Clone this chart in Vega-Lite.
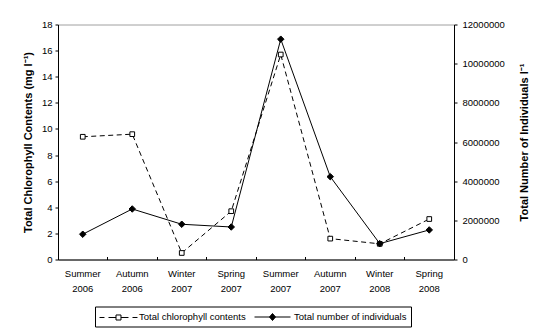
{
  "$schema": "https://vega.github.io/schema/vega-lite/v6.json",
  "width": 396,
  "height": 235,
  "autosize": {"type": "none"},
  "padding": {"left": 58, "top": 24.5, "right": 82, "bottom": 69.5},
  "background": "white",
  "config": {
    "font": "Liberation Sans",
    "view": {"stroke": "#a0a0a0", "strokeWidth": 1},
    "axis": {
      "domainColor": "black",
      "domainWidth": 1,
      "tickColor": "black",
      "tickWidth": 1,
      "labelColor": "black",
      "titleColor": "black",
      "labelFont": "Liberation Sans",
      "titleFont": "Liberation Sans",
      "labelFontSize": 9.5,
      "titleFontSize": 11,
      "titleFontWeight": "bold",
      "grid": false
    }
  },
  "datasets": {
    "seasons": [
      {"season": "Summer 2006", "chl": 9.4, "ind": 1290000},
      {"season": "Autumn 2006", "chl": 9.6, "ind": 2580000},
      {"season": "Winter 2007", "chl": 0.5, "ind": 1800000},
      {"season": "Spring 2007", "chl": 3.7, "ind": 1660000},
      {"season": "Summer 2007", "chl": 15.7, "ind": 11250000},
      {"season": "Autumn 2007", "chl": 1.6, "ind": 4230000},
      {"season": "Winter 2008", "chl": 1.2, "ind": 810000},
      {"season": "Spring 2008", "chl": 3.1, "ind": 1510000}
    ],
    "series": [
      {"series": "Total chlorophyll contents"},
      {"series": "Total number of individuals"}
    ]
  },
  "layer": [
    {
      "data": {"name": "seasons"},
      "encoding": {
        "x": {
          "field": "season",
          "type": "ordinal",
          "sort": null,
          "scale": {"type": "band", "paddingInner": 0, "paddingOuter": 0},
          "axis": {
            "title": null,
            "labelAngle": 0,
            "labelExpr": "split(datum.value, ' ')",
            "labelLineHeight": 15,
            "tickSize": -3,
            "labelPadding": 12,
            "bandPosition": 0
          }
        },
        "y": {
          "field": "chl",
          "type": "quantitative",
          "scale": {"domain": [0, 18], "nice": false},
          "axis": {
            "title": "Total Chlorophyll Contents (mg l⁻¹)",
            "values": [0, 2, 4, 6, 8, 10, 12, 14, 16, 18],
            "tickSize": 3,
            "labelPadding": 3,
            "titlePadding": 8
          }
        }
      },
      "layer": [
        {"mark": {"type": "line", "color": "black", "strokeWidth": 1, "strokeDash": [5, 3.5]}},
        {"mark": {"type": "point", "shape": "square", "size": 22, "filled": true, "fill": "white", "stroke": "black", "strokeWidth": 1, "opacity": 1}}
      ]
    },
    {
      "data": {"name": "seasons"},
      "encoding": {
        "x": {"field": "season", "type": "ordinal", "sort": null},
        "y": {
          "field": "ind",
          "type": "quantitative",
          "scale": {"domain": [0, 12000000], "nice": false},
          "axis": {
            "orient": "right",
            "title": "Total Number of Individuals l⁻¹",
            "values": [0, 2000000, 4000000, 6000000, 8000000, 10000000, 12000000],
            "format": "d",
            "tickSize": 3,
            "labelPadding": 5,
            "titleAngle": 270,
            "titleBaseline": "top",
            "titlePadding": 14
          }
        }
      },
      "layer": [
        {"mark": {"type": "line", "color": "black", "strokeWidth": 1}},
        {"mark": {"type": "point", "shape": "diamond", "size": 42, "filled": true, "fill": "black", "stroke": "black", "strokeWidth": 1, "opacity": 1}}
      ]
    },
    {
      "data": {"name": "series"},
      "mark": {"type": "point", "opacity": 0, "size": 144, "filled": true, "strokeWidth": 1},
      "encoding": {
        "shape": {
          "field": "series",
          "type": "nominal",
          "scale": {
            "domain": ["Total chlorophyll contents", "Total number of individuals"],
            "range": [
              "M-1,0H-0.17M0.5,0H1.75M2.58,0H3.83M4.5,0H5.33M1.75,-0.42H2.58V0.42H1.75Z",
              "M-1,0H5M2,-0.58L2.5,0L2,0.58L1.5,0Z"
            ]
          },
          "legend": {
            "title": null,
            "orient": "none",
            "legendX": 37,
            "legendY": 282,
            "direction": "horizontal",
            "columns": 2,
            "strokeColor": "black",
            "fillColor": "white",
            "padding": 4,
            "symbolSize": 144,
            "symbolStrokeColor": "black",
            "symbolStrokeWidth": 1,
            "symbolOpacity": 1,
            "labelFont": "Liberation Sans",
            "labelFontSize": 9.5,
            "labelColor": "black",
            "labelOffset": 27,
            "labelLimit": 300,
            "columnPadding": 6
          }
        },
        "fill": {
          "field": "series",
          "type": "nominal",
          "scale": {
            "domain": ["Total chlorophyll contents", "Total number of individuals"],
            "range": ["white", "black"]
          }
        },
        "stroke": {
          "field": "series",
          "type": "nominal",
          "scale": {
            "domain": ["Total chlorophyll contents", "Total number of individuals"],
            "range": ["black", "black"]
          }
        }
      }
    }
  ],
  "resolve": {"scale": {"y": "independent"}}
}
